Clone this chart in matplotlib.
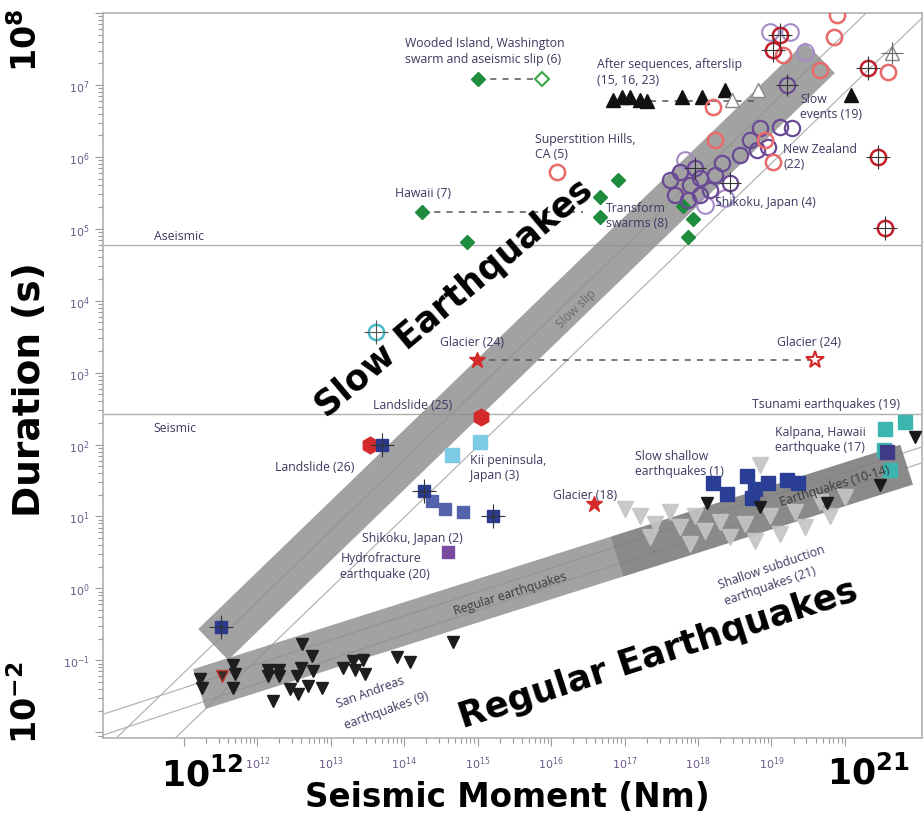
import numpy as np
import matplotlib
matplotlib.use("Agg")
import matplotlib.pyplot as plt
from matplotlib.ticker import FixedLocator, FuncFormatter

# all values are log10(seismic moment, Nm) and log10(duration, s)
# --- slow events / upper panel ---
wooded_M = [15.0, 15.88]
wooded_T = [7.08, 7.08]
hawaii_M = [14.24]
hawaii_T = [5.24]
hawaii_dash_M = [14.24, 16.44]
swarm_M = [14.86, 16.67, 16.67, 16.91, 17.80, 17.93, 17.86]
swarm_T = [4.81, 5.44, 5.17, 5.68, 5.31, 5.13, 4.89]
superst_M = [16.08]
superst_T = [5.79]
after_M = [16.84, 16.97, 17.07, 17.21, 17.31, 17.78, 18.05, 18.37, 20.08]
after_T = [6.79, 6.83, 6.83, 6.79, 6.77, 6.83, 6.83, 6.93, 6.86]
after_open_M = [18.46, 18.82, 20.64]
after_open_T = [6.79, 6.93, 7.44]
after_dash_M = [17.35, 18.84]
after_dash_T = [6.77, 6.77]
redc_M = [19.89, 19.85, 19.16, 19.66, 18.20, 18.23, 18.91, 19.02, 20.59]
redc_T = [7.97, 7.67, 7.42, 7.21, 6.69, 6.24, 6.24, 5.93, 7.18]
redx_M = [19.12, 19.02, 20.31, 20.45, 20.54]
redx_T = [7.69, 7.49, 7.24, 6.00, 5.01]
purp_M = [19.21, 18.71, 18.84, 19.12, 19.28, 18.80, 18.95, 18.44, 17.96, 17.62, 17.76,
          17.89, 18.03, 18.16, 17.69, 17.86, 18.03, 18.23, 18.33, 18.57]
purp_T = [7.00, 6.24, 6.40, 6.42, 6.40, 6.10, 6.13, 5.64, 5.85, 5.68, 5.79,
          5.61, 5.71, 5.54, 5.47, 5.40, 5.47, 5.75, 5.92, 6.03]
purpx_M = [18.44, 17.96, 19.21]
purpx_T = [5.64, 5.85, 7.00]
purpd_M = [18.98, 19.25, 19.46, 18.10, 17.82, 18.37]
purpd_T = [7.74, 7.74, 7.46, 5.33, 5.96, 5.43]

# --- lower panel ---
cyan_M = [13.61]
cyan_T = [3.56]
glacier24_M = [14.99, 19.59]
glacier24_T = [3.18, 3.18]
slide25_M = [15.05]
slide25_T = [2.38]
slide26_M = [13.54]
slide26_T = [2.0]
navyx_M = [13.70, 14.27, 15.21, 11.50]
navyx_T = [2.0, 1.35, 1.01, -0.53]
kii_M = [15.03, 14.65]
kii_T = [2.03, 1.86]
shikoku2_M = [14.38, 14.56, 14.80]
shikoku2_T = [1.22, 1.10, 1.06]
hydro_M = [14.6]
hydro_T = [0.51]
glacier18_M = [16.59]
glacier18_T = [1.18]
shallow_M = [18.20, 18.39, 18.67, 18.78, 18.95, 19.21, 19.36, 18.73]
shallow_T = [1.47, 1.31, 1.56, 1.38, 1.47, 1.51, 1.47, 1.26]
tsunami_M = [20.54, 20.82, 20.53, 20.61]
tsunami_T = [2.21, 2.31, 1.93, 1.65]
kalpana_M = [20.57]
kalpana_T = [1.89]
regular_M = [20.95, 20.48, 19.76, 18.84, 18.12, 14.67]
regular_T = [2.10, 1.44, 1.19, 1.13, 1.19, -0.75]
sanandreas_M = [11.22, 11.25, 11.67, 11.70, 11.67, 12.14, 12.29, 12.14, 12.29, 12.22,
                12.45, 12.54, 12.59, 12.61, 12.75, 12.76, 12.69, 12.88, 12.56, 13.17,
                13.31, 13.44, 13.33, 13.47, 13.90, 14.08]
sanandreas_T = [-1.26, -1.38, -1.06, -1.19, -1.38, -1.13, -1.13, -1.22, -1.22, -1.57,
                -1.40, -1.22, -1.10, -0.78, -0.94, -1.15, -1.36, -1.38, -1.47, -1.10,
                -1.01, -0.99, -1.13, -1.19, -0.96, -1.03]
sa_red_M = [11.52]
sa_red_T = [-1.22]
subduct_M = [17.0, 17.21, 17.41, 17.62, 17.76, 17.96, 18.1, 18.3, 18.44, 18.64, 18.78,
             18.98, 19.12, 19.32, 19.46, 19.66, 19.8, 20.0, 18.84, 17.35, 17.89]
subduct_T = [1.10, 1.00, 0.90, 1.06, 0.86, 1.00, 0.80, 0.93, 0.72, 0.89, 0.66,
             1.00, 0.76, 1.06, 0.86, 1.20, 1.00, 1.27, 1.72, 0.72, 0.62]

# bands (end points of centre line) and scaling lines
slow_band_M = [11.40, 19.66]
slow_band_T = [-0.78, 7.38]
reg_band_M = [11.21, 20.84]
reg_band_T = [-1.40, 1.72]
eq_band_M = [16.90, 20.84]
eq_band_T = [0.44, 1.72]
slow_line_M = [9.9, 21.05]
slow_line_T = [-2.26, 8.75]
slow_line2_M = [9.9, 21.05]
slow_line2_T = [-3.05, 7.93]
reg_line_M = [9.9, 21.06]
reg_lineA_T = [-1.75, 1.97]
reg_lineB_T = [-2.04, 1.75]
aseismic_T = 4.78
seismic_T = 2.42


def P(a):
    return 10 ** np.asarray(a, dtype=float)


fig = plt.figure(figsize=(9.24, 8.2), dpi=100)
ax = fig.add_axes([103 / 924, 1 - 739 / 820, 819 / 924, 725 / 820])
ax.set_xscale('log')
ax.set_yscale('log')
ax.set_xlim(10 ** 9.9, 10 ** 21.05)
ax.set_ylim(10 ** -2.08, 10 ** 8.0)

lc = '#b4b4b4'
ax.plot(P(slow_line_M), P(slow_line_T), color=lc, lw=0.9, zorder=1)
ax.plot(P(slow_line2_M), P(slow_line2_T), color=lc, lw=0.9, zorder=1)
ax.plot(P(reg_line_M), P(reg_lineA_T), color=lc, lw=0.9, zorder=1)
ax.plot(P(reg_line_M), P(reg_lineB_T), color=lc, lw=0.9, zorder=1)
ax.axhline(10 ** aseismic_T, color='#b0b0b0', lw=1, zorder=1)
ax.axhline(10 ** seismic_T, color='#b0b0b0', lw=1, zorder=1)

# grey bands as thick butt-capped lines
ax.plot(P(slow_band_M), P(slow_band_T), color='#8e8e8e', lw=31, alpha=0.82,
        solid_capstyle='butt', zorder=2)
ax.plot(P(reg_band_M), P(reg_band_T), color='#8e8e8e', lw=30, alpha=0.82,
        solid_capstyle='butt', zorder=2)
ax.plot(P(eq_band_M), P(eq_band_T), color='#6e6e6e', lw=30, alpha=0.45,
        solid_capstyle='butt', zorder=2)

# dashed connectors
dk = dict(color='#555555', lw=1.1, ls=(0, (4, 4)), zorder=3)
ax.plot(P(wooded_M), P(wooded_T), **dk)
ax.plot(P(hawaii_dash_M), P(hawaii_T * 2), **dk)
ax.plot(P(after_dash_M), P(after_dash_T), **dk)
ax.plot(P(glacier24_M), P(glacier24_T), **dk)

green = '#1e8c3c'
ax.plot(P(wooded_M[:1]), P(wooded_T[:1]), 'D', color=green, ms=7, zorder=4)
ax.plot(P(wooded_M[1:]), P(wooded_T[1:]), 'D', mfc='white', mec='#3aa848', mew=1.5, ms=7, zorder=4)
ax.plot(P(hawaii_M), P(hawaii_T), 'D', color=green, ms=7, zorder=4)
ax.plot(P(swarm_M), P(swarm_T), 'D', color=green, ms=7, zorder=4)
ax.plot(P(superst_M), P(superst_T), 'o', mfc='none', mec='#e86a6a', mew=1.8, ms=11, zorder=4)
ax.plot(P(after_M), P(after_T), '^', color='#111111', ms=10, zorder=4)
ax.plot(P(after_open_M), P(after_open_T), '^', mfc='white', mec='#888888', mew=1, ms=10, zorder=4)
ax.plot(P(after_open_M[2:]), P(after_open_T[2:]), '+', color='#666666', ms=16, mew=0.8, zorder=5)
# dashed-outline purple circles drawn lighter
ax.plot(P(purpd_M), P(purpd_T), 'o', mfc='none', mec='#a48cc6', mew=1.5, ms=12,
        ls='none', zorder=4)
ax.plot(P(purp_M), P(purp_T), 'o', mfc='none', mec='#6a4a94', mew=1.6, ms=11, zorder=4)
ax.plot(P(purpx_M), P(purpx_T), '+', color='#333333', ms=16, mew=0.8, zorder=5)
ax.plot(P(redc_M), P(redc_T), 'o', mfc='none', mec='#e86a6a', mew=1.8, ms=11, zorder=4)
ax.plot(P(redx_M), P(redx_T), 'o', mfc='none', mec='#c41e2a', mew=1.8, ms=11, zorder=4)
ax.plot(P(redx_M), P(redx_T), '+', color='#333333', ms=17, mew=0.8, zorder=5)

ax.plot(P(cyan_M), P(cyan_T), 'o', mfc='none', mec='#4ab8c8', mew=1.8, ms=11, zorder=4)
ax.plot(P(cyan_M), P(cyan_T), '+', color='#555555', ms=17, mew=0.8, zorder=5)
ax.plot(P(glacier24_M[:1]), P(glacier24_T[:1]), '*', color='#d42a2a', ms=12, zorder=4)
ax.plot(P(glacier24_M[1:]), P(glacier24_T[1:]), '*', mfc='white', mec='#d42a2a', mew=1.5, ms=13, zorder=4)
ax.plot(P(slide25_M), P(slide25_T), 'h', color='#d42a2a', ms=12, zorder=4)
ax.plot(P(slide26_M), P(slide26_T), 'h', color='#d42a2a', ms=12, zorder=4)
ax.plot(P(kii_M), P(kii_T), 's', color='#7ccbe4', ms=10, zorder=4)
ax.plot(P(shikoku2_M), P(shikoku2_T), 's', color='#5464ac', ms=9, zorder=4)
ax.plot(P(navyx_M), P(navyx_T), 's', color='#2b3a8c', ms=9, zorder=4)
ax.plot(P(navyx_M), P(navyx_T), '+', color='#333333', ms=17, mew=0.8, zorder=5)
ax.plot(P(hydro_M), P(hydro_T), 's', color='#7a4aa0', ms=8, zorder=4)
ax.plot(P(glacier18_M), P(glacier18_T), '*', color='#d42a2a', ms=12, zorder=4)
ax.plot(P(subduct_M), P(subduct_T), 'v', color='#c4c4c4', ms=11, alpha=0.9, zorder=3)
ax.plot(P(shallow_M), P(shallow_T), 's', color='#2b3e96', ms=10, zorder=4)
ax.plot(P(tsunami_M), P(tsunami_T), 's', color='#3cb4b0', ms=10, zorder=4)
ax.plot(P(kalpana_M), P(kalpana_T), 's', color='#3e3a86', ms=10, zorder=4)
ax.plot(P(regular_M), P(regular_T), 'v', color='#1a1a1a', ms=9, zorder=4)
ax.plot(P(sanandreas_M), P(sanandreas_T), 'v', color='#1e1e1e', ms=9, zorder=4)
ax.plot(P(sa_red_M), P(sa_red_T), 'v', mfc='#3a2a2a', mec='#c04030', ms=9, zorder=4)

# small labels
tc = '#3a3a62'
fs = 8.8
fam = ['Open Sans', 'DejaVu Sans']
labels = [
    (14.01, 7.48, 'Wooded Island, Washington\nswarm and aseismic slip (6)'),
    (16.63, 7.19, 'After sequences, afterslip\n(15, 16, 23)'),
    (15.78, 6.15, 'Superstition Hills,\nCA (5)'),
    (13.88, 5.50, 'Hawaii (7)'),
    (16.75, 5.19, 'Transform\nswarms (8)'),
    (19.39, 6.71, 'Slow\nevents (19)'),
    (19.16, 6.01, 'New Zealand\n(22)'),
    (18.23, 5.38, 'Shikoku, Japan (4)'),
    (10.59, 4.90, 'Aseismic'),
    (14.49, 3.43, 'Glacier (24)'),
    (19.07, 3.43, 'Glacier (24)'),
    (18.73, 2.57, 'Tsunami earthquakes (19)'),
    (13.58, 2.56, 'Landslide (25)'),
    (10.59, 2.24, 'Seismic'),
    (19.05, 2.08, 'Kalpana, Hawaii\nearthquake (17)'),
    (12.24, 1.69, 'Landslide (26)'),
    (14.90, 1.69, 'Kii peninsula,\nJapan (3)'),
    (17.14, 1.74, 'Slow shallow\nearthquakes (1)'),
    (16.03, 1.31, 'Glacier (18)'),
    (13.43, 0.71, 'Shikoku, Japan (2)'),
    (13.13, 0.32, 'Hydrofracture\nearthquake (20)'),
]
for m, t, s in labels:
    ax.text(10 ** m, 10 ** t, s, fontsize=fs, color=tc, family=fam,
            ha='left', va='center', linespacing=1.25, zorder=6)

rot_labels = [
    (16.35, 3.90, 'Slow slip', 44, '#6a6a6a'),
    (19.86, 1.44, 'Earthquakes (10-14)', 17, '#3a3a3a'),
    (15.44, -0.06, 'Regular earthquakes', 17.5, '#3a3a3a'),
    (19.00, 0.31, 'Shallow subduction', 19, tc),
    (18.98, 0.04, 'earthquakes (21)', 19, tc),
    (13.54, -1.43, 'San Andreas', 20, tc),
    (13.76, -1.68, 'earthquakes (9)', 20, tc),
]
for m, t, s, r, c in rot_labels:
    ax.text(10 ** m, 10 ** t, s, fontsize=fs, color=c, family=fam, rotation=r,
            rotation_mode='anchor', ha='center', va='center', zorder=6)

# axes styling
for sp in ax.spines.values():
    sp.set_color('#b0b0b0')
    sp.set_linewidth(1.2)
xt = [10.0 ** k for k in range(11, 21)]
ax.xaxis.set_major_locator(FixedLocator(xt))
ax.xaxis.set_minor_locator(FixedLocator([m * 10.0 ** k for k in range(11, 20) for m in range(2, 10)]))
yt = [10.0 ** k for k in range(-2, 9)]
ax.yaxis.set_major_locator(FixedLocator(yt))
ax.yaxis.set_minor_locator(FixedLocator([m * 10.0 ** k for k in range(-3, 8) for m in range(2, 10)]))


def xfmt(v, pos):
    k = int(round(np.log10(v)))
    return r'$10^{%d}$' % k if 12 <= k <= 19 else ''


def yfmt(v, pos):
    k = int(round(np.log10(v)))
    return r'$10^{%d}$' % k if -1 <= k <= 7 else ''


ax.xaxis.set_major_formatter(FuncFormatter(xfmt))
ax.yaxis.set_major_formatter(FuncFormatter(yfmt))
ax.tick_params(which='both', direction='out', color='#9a9a9a', width=0.8,
               labelsize=8, labelcolor='#6a5a8a')
ax.tick_params(axis='x', which='major', length=6, pad=6)
ax.tick_params(axis='y', which='major', length=6)
ax.tick_params(which='minor', length=3.5)

# big overlay labels
big = dict(color='black', weight='bold', family='DejaVu Sans')
fig.text(30 / 924, 1 - 390 / 820, 'Duration (s)', rotation=90, ha='center', va='center',
         fontsize=27, **big)
fig.text(507 / 924, 1 - 798 / 820, 'Seismic Moment (Nm)', ha='center', va='center',
         fontsize=23.5, **big)
wb = dict(facecolor='white', edgecolor='none', pad=1)
fig.text(27 / 924, 1 - 40 / 820, r'$\mathbf{10^{8}}$', rotation=90, ha='center', va='center',
         fontsize=24, bbox=wb, **big)
fig.text(27 / 924, 1 - 703 / 820, r'$\mathbf{10^{-2}}$', rotation=90, ha='center', va='center',
         fontsize=24, bbox=wb, **big)
fig.text(202 / 924, 1 - 775 / 820, r'$\mathbf{10^{12}}$', ha='center', va='center',
         fontsize=25, bbox=wb, **big)
fig.text(868 / 924, 1 - 773 / 820, r'$\mathbf{10^{21}}$', ha='center', va='center',
         fontsize=25, bbox=wb, **big)
fig.text(454 / 924, 1 - 298 / 820, 'Slow Earthquakes', rotation=40, ha='center', va='center',
         fontsize=25, zorder=10, **big)
fig.text(658 / 924, 1 - 654 / 820, 'Regular Earthquakes', rotation=18, ha='center', va='center',
         fontsize=25.5, zorder=10, **big)

fig.savefig('out.png', dpi=100)
